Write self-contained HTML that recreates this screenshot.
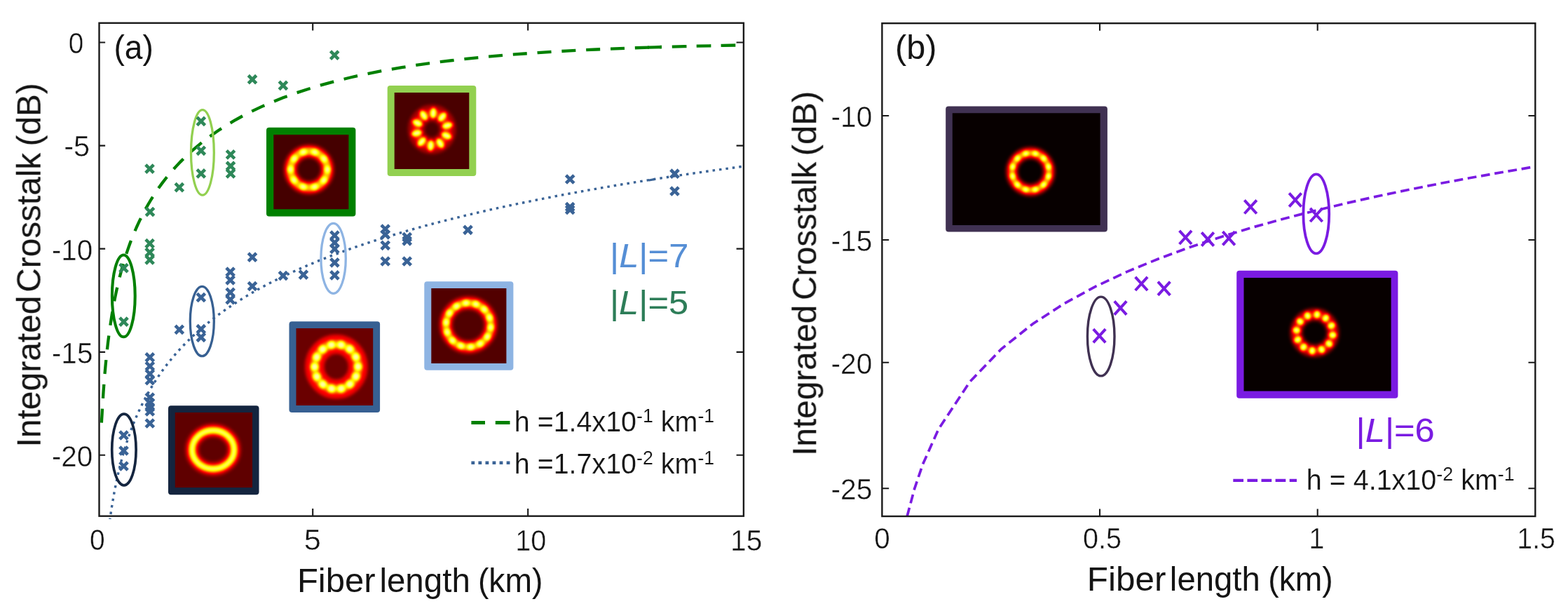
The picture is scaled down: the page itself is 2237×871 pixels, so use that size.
<!DOCTYPE html>
<html lang="en"><head><meta charset="utf-8"><title>Integrated crosstalk vs fiber length</title>
<style>html,body{margin:0;padding:0;background:#fff;}body{width:2237px;height:871px;overflow:hidden;}svg{display:block;}text{font-family:"Liberation Sans",sans-serif;fill:#141414;}</style>
</head><body>
<svg width="2237" height="871" viewBox="0 0 2237 871">
<defs>
<filter id="hb1" x="-20%" y="-20%" width="140%" height="140%" color-interpolation-filters="sRGB"><feGaussianBlur stdDeviation="1.4"/><feComponentTransfer><feFuncR type="table" tableValues="0 0.333 0.667 1 1 1 1 1 1"/><feFuncG type="table" tableValues="0 0 0 0 0.333 0.667 1 1 1"/><feFuncB type="table" tableValues="0 0 0 0 0 0 0 0.5 1"/></feComponentTransfer></filter>
<filter id="hb2" x="-20%" y="-20%" width="140%" height="140%" color-interpolation-filters="sRGB"><feGaussianBlur stdDeviation="2.0"/><feComponentTransfer><feFuncR type="table" tableValues="0 0.333 0.667 1 1 1 1 1 1"/><feFuncG type="table" tableValues="0 0 0 0 0.333 0.667 1 1 1"/><feFuncB type="table" tableValues="0 0 0 0 0 0 0 0.5 1"/></feComponentTransfer></filter>
<filter id="hb3" x="-20%" y="-20%" width="140%" height="140%" color-interpolation-filters="sRGB"><feGaussianBlur stdDeviation="2.6"/><feComponentTransfer><feFuncR type="table" tableValues="0 0.333 0.667 1 1 1 1 1 1"/><feFuncG type="table" tableValues="0 0 0 0 0.333 0.667 1 1 1"/><feFuncB type="table" tableValues="0 0 0 0 0 0 0 0.5 1"/></feComponentTransfer></filter>
<filter id="soft" filterUnits="userSpaceOnUse" x="0" y="0" width="2237" height="871" color-interpolation-filters="sRGB"><feGaussianBlur stdDeviation="0.6"/></filter>
</defs>
<rect width="2237" height="871" fill="#fff"/>
<g filter="url(#soft)">
<clipPath id="cpa"><rect x="130" y="20" width="931.5" height="720"/></clipPath>
<g clip-path="url(#cpa)">
<g fill="none" stroke="#008000" stroke-width="4.3">
<path d="M144.7 606.1 L145.1 598.2 L145.6 590.3 L146.0 582.4 L146.5 574.6 L147.0 566.7 L147.5 558.8 L148.1 550.9 L148.7 543.0 L149.3 535.1 L150.0 527.3 L150.7 519.4 L151.5 511.5 L152.3 503.6 L153.2 495.7 L154.1 487.8 L155.1 480.0 L156.2 472.1 L157.3 464.2 L158.5 456.3 L159.7 448.4 L161.1 440.6 L162.5 432.7 L164.0 424.8 L165.6 417.0 L167.4 409.1 L169.2 401.2 L171.1 393.4 L173.2 385.5 L175.4 377.7 L177.8 369.8 L180.2 362.0 L182.9 354.1 L185.7 346.3 L188.7 338.5 L191.9 330.7 L195.3 322.9 L198.9 315.1 L202.8 307.3 L206.8 299.5 L211.2 291.8 L215.8 284.0 L220.7 276.3 L225.9 268.6 L231.5 260.9 L237.4 253.3 L243.7 245.7 L250.4 238.1 L257.5 230.6 L265.1 223.1 L273.1 215.6 L281.7 208.3 L290.8 200.9 L300.5 193.7 L310.8 186.5 L321.8 179.4 L333.4 172.4 L345.8 165.5 L359.0 158.8 L373.0 152.1 L388.0 145.6 L403.8 139.3 L420.7 133.1 L438.7 127.2 L457.8 121.4 L478.1 115.8 L499.7 110.5 L522.7 105.4 L547.1 100.6 L573.1 96.1 L600.8 91.8 L630.2 87.9 L661.5 84.2 L694.8 80.9 L730.2 77.8 L767.8 75.1 L807.9 72.6 L850.5 70.5 L895.8 68.6 L944.0 67.0" stroke-dasharray="20 14.86" stroke-dashoffset="-3.5"/>
<path d="M924.0 67.7 L933.9 67.3 L944.0 67.0"/>
<path d="M958.8 66.6 L976.2 66.1 L994.1 65.7 L1012.2 65.3 L1030.8 64.9 L1049.8 64.5" stroke-dasharray="20.7 14.2"/>
</g>
<path d="M145.4 874.8 L145.8 867.6 L146.2 860.4 L146.6 853.2 L147.0 846.0 L147.4 838.8 L147.9 831.6 L148.4 824.4 L148.9 817.2 L149.5 810.0 L150.1 802.8 L150.7 795.6 L151.4 788.4 L152.1 781.2 L152.8 774.0 L153.6 766.8 L154.4 759.6 L155.3 752.5 L156.2 745.3 L157.2 738.1 L158.2 730.9 L159.3 723.7 L160.5 716.5 L161.7 709.3 L163.0 702.1 L164.4 694.9 L165.9 687.7 L167.4 680.5 L169.0 673.3 L170.7 666.1 L172.6 658.9 L174.5 651.7 L176.5 644.5 L178.7 637.3 L181.0 630.1 L183.4 622.9 L185.9 615.7 L188.6 608.5 L191.5 601.3 L194.5 594.2 L197.7 587.0 L201.1 579.8 L204.7 572.6 L208.5 565.4 L212.5 558.2 L216.7 551.0 L221.2 543.8 L225.9 536.6 L230.9 529.4 L236.2 522.2 L241.9 515.0 L247.8 507.8 L254.1 500.6 L260.7 493.5 L267.8 486.3 L275.2 479.1 L283.1 471.9 L291.4 464.7 L300.2 457.5 L309.5 450.3 L319.4 443.1 L329.8 436.0 L340.8 428.8 L352.5 421.6 L364.9 414.4 L377.9 407.2 L391.8 400.1 L406.4 392.9 L421.8 385.7 L438.2 378.6 L455.5 371.4 L473.8 364.2 L493.2 357.1 L513.7 349.9 L535.4 342.8 L558.3 335.7 L582.6 328.5 L608.3 321.4 L635.4 314.3 L664.2 307.2 L694.5 300.1 L726.7 293.0 L760.7 286.0 L796.7 278.9 L834.8 271.9 L875.1 264.9 L917.7 257.9 L962.8 250.9 L1010.4 244.0 L1060.9 237.1" fill="none" stroke="#3a6396" stroke-width="3.4" stroke-dasharray="3.5 6.0"/>
<path d="M925.8 257 L934.6 255.4" fill="none" stroke="#3a6396" stroke-width="3.2"/>
</g>
<ellipse cx="288.9" cy="217.4" rx="16.4" ry="60.7" fill="none" stroke="#92d050" stroke-width="3.3"/>
<ellipse cx="176.3" cy="421.9" rx="16.4" ry="58.4" fill="none" stroke="#008000" stroke-width="4.1"/>
<ellipse cx="288.3" cy="458.0" rx="17.0" ry="49.7" fill="none" stroke="#376092" stroke-width="3.3"/>
<ellipse cx="176.9" cy="641.0" rx="17.2" ry="50.8" fill="none" stroke="#14253f" stroke-width="3.7"/>
<ellipse cx="475.6" cy="368.4" rx="17.7" ry="50.0" fill="none" stroke="#8eb4e3" stroke-width="3.3"/>
<g>
<path d="M354.3 107.5 l11.4 11.4 M354.3 118.9 l11.4 -11.4" stroke="#2e8859" stroke-width="4.6" fill="none"/>
<path d="M398.2 116.2 l11.4 11.4 M398.2 127.6 l11.4 -11.4" stroke="#2e8859" stroke-width="4.6" fill="none"/>
<path d="M281.1 167.2 l11.4 11.4 M281.1 178.6 l11.4 -11.4" stroke="#2e8859" stroke-width="4.6" fill="none"/>
<path d="M281.1 209.1 l11.4 11.4 M281.1 220.5 l11.4 -11.4" stroke="#2e8859" stroke-width="4.6" fill="none"/>
<path d="M281.1 241.7 l11.4 11.4 M281.1 253.1 l11.4 -11.4" stroke="#2e8859" stroke-width="4.6" fill="none"/>
<path d="M323.3 214.7 l11.4 11.4 M323.3 226.1 l11.4 -11.4" stroke="#2e8859" stroke-width="4.6" fill="none"/>
<path d="M323.3 231.0 l11.4 11.4 M323.3 242.4 l11.4 -11.4" stroke="#2e8859" stroke-width="4.6" fill="none"/>
<path d="M323.3 241.7 l11.4 11.4 M323.3 253.1 l11.4 -11.4" stroke="#2e8859" stroke-width="4.6" fill="none"/>
<path d="M207.8 234.9 l11.4 11.4 M207.8 246.3 l11.4 -11.4" stroke="#2e8859" stroke-width="4.6" fill="none"/>
<path d="M250.1 261.4 l11.4 11.4 M250.1 272.8 l11.4 -11.4" stroke="#2e8859" stroke-width="4.6" fill="none"/>
<path d="M208.3 296.3 l11.4 11.4 M208.3 307.7 l11.4 -11.4" stroke="#2e8859" stroke-width="4.6" fill="none"/>
<path d="M207.9 341.4 l11.4 11.4 M207.9 352.8 l11.4 -11.4" stroke="#2e8859" stroke-width="4.6" fill="none"/>
<path d="M207.9 354.1 l11.4 11.4 M207.9 365.5 l11.4 -11.4" stroke="#2e8859" stroke-width="4.6" fill="none"/>
<path d="M207.9 364.7 l11.4 11.4 M207.9 376.1 l11.4 -11.4" stroke="#2e8859" stroke-width="4.6" fill="none"/>
<path d="M170.8 376.4 l11.4 11.4 M170.8 387.8 l11.4 -11.4" stroke="#2e8859" stroke-width="4.6" fill="none"/>
<path d="M170.8 452.9 l11.4 11.4 M170.8 464.3 l11.4 -11.4" stroke="#2e8859" stroke-width="4.6" fill="none"/>
<path d="M471.5 72.9 l11.4 11.4 M471.5 84.3 l11.4 -11.4" stroke="#2e8859" stroke-width="4.6" fill="none"/>
<path d="M354.3 360.9 l11.4 11.4 M354.3 372.3 l11.4 -11.4" stroke="#3a6396" stroke-width="4.6" fill="none"/>
<path d="M354.3 402.3 l11.4 11.4 M354.3 413.7 l11.4 -11.4" stroke="#3a6396" stroke-width="4.6" fill="none"/>
<path d="M322.9 381.9 l11.4 11.4 M322.9 393.3 l11.4 -11.4" stroke="#3a6396" stroke-width="4.6" fill="none"/>
<path d="M322.9 393.6 l11.4 11.4 M322.9 405.0 l11.4 -11.4" stroke="#3a6396" stroke-width="4.6" fill="none"/>
<path d="M322.9 411.2 l11.4 11.4 M322.9 422.6 l11.4 -11.4" stroke="#3a6396" stroke-width="4.6" fill="none"/>
<path d="M322.9 421.5 l11.4 11.4 M322.9 432.9 l11.4 -11.4" stroke="#3a6396" stroke-width="4.6" fill="none"/>
<path d="M281.1 418.3 l11.4 11.4 M281.1 429.7 l11.4 -11.4" stroke="#3a6396" stroke-width="4.6" fill="none"/>
<path d="M398.2 387.3 l11.4 11.4 M398.2 398.7 l11.4 -11.4" stroke="#3a6396" stroke-width="4.6" fill="none"/>
<path d="M250.1 464.2 l11.4 11.4 M250.1 475.6 l11.4 -11.4" stroke="#3a6396" stroke-width="4.6" fill="none"/>
<path d="M281.1 463.5 l11.4 11.4 M281.1 474.9 l11.4 -11.4" stroke="#3a6396" stroke-width="4.6" fill="none"/>
<path d="M281.1 475.1 l11.4 11.4 M281.1 486.5 l11.4 -11.4" stroke="#3a6396" stroke-width="4.6" fill="none"/>
<path d="M208.1 503.7 l11.4 11.4 M208.1 515.1 l11.4 -11.4" stroke="#3a6396" stroke-width="4.6" fill="none"/>
<path d="M208.1 516.3 l11.4 11.4 M208.1 527.7 l11.4 -11.4" stroke="#3a6396" stroke-width="4.6" fill="none"/>
<path d="M208.1 527.3 l11.4 11.4 M208.1 538.7 l11.4 -11.4" stroke="#3a6396" stroke-width="4.6" fill="none"/>
<path d="M208.1 536.5 l11.4 11.4 M208.1 547.9 l11.4 -11.4" stroke="#3a6396" stroke-width="4.6" fill="none"/>
<path d="M208.1 560.8 l11.4 11.4 M208.1 572.2 l11.4 -11.4" stroke="#3a6396" stroke-width="4.6" fill="none"/>
<path d="M208.1 568.3 l11.4 11.4 M208.1 579.7 l11.4 -11.4" stroke="#3a6396" stroke-width="4.6" fill="none"/>
<path d="M208.1 574.8 l11.4 11.4 M208.1 586.2 l11.4 -11.4" stroke="#3a6396" stroke-width="4.6" fill="none"/>
<path d="M208.1 580.8 l11.4 11.4 M208.1 592.2 l11.4 -11.4" stroke="#3a6396" stroke-width="4.6" fill="none"/>
<path d="M208.1 597.8 l11.4 11.4 M208.1 609.2 l11.4 -11.4" stroke="#3a6396" stroke-width="4.6" fill="none"/>
<path d="M170.8 614.8 l11.4 11.4 M170.8 626.2 l11.4 -11.4" stroke="#3a6396" stroke-width="4.6" fill="none"/>
<path d="M170.8 636.8 l11.4 11.4 M170.8 648.2 l11.4 -11.4" stroke="#3a6396" stroke-width="4.6" fill="none"/>
<path d="M170.8 658.8 l11.4 11.4 M170.8 670.2 l11.4 -11.4" stroke="#3a6396" stroke-width="4.6" fill="none"/>
<path d="M427.2 385.9 l11.4 11.4 M427.2 397.3 l11.4 -11.4" stroke="#3a6396" stroke-width="4.6" fill="none"/>
<path d="M471.7 329.9 l11.4 11.4 M471.7 341.3 l11.4 -11.4" stroke="#3a6396" stroke-width="4.6" fill="none"/>
<path d="M471.7 340.2 l11.4 11.4 M471.7 351.6 l11.4 -11.4" stroke="#3a6396" stroke-width="4.6" fill="none"/>
<path d="M471.7 349.2 l11.4 11.4 M471.7 360.6 l11.4 -11.4" stroke="#3a6396" stroke-width="4.6" fill="none"/>
<path d="M471.7 368.6 l11.4 11.4 M471.7 380.0 l11.4 -11.4" stroke="#3a6396" stroke-width="4.6" fill="none"/>
<path d="M471.7 386.7 l11.4 11.4 M471.7 398.1 l11.4 -11.4" stroke="#3a6396" stroke-width="4.6" fill="none"/>
<path d="M544.0 320.8 l11.4 11.4 M544.0 332.2 l11.4 -11.4" stroke="#3a6396" stroke-width="4.6" fill="none"/>
<path d="M544.0 328.6 l11.4 11.4 M544.0 340.0 l11.4 -11.4" stroke="#3a6396" stroke-width="4.6" fill="none"/>
<path d="M544.0 344.1 l11.4 11.4 M544.0 355.5 l11.4 -11.4" stroke="#3a6396" stroke-width="4.6" fill="none"/>
<path d="M544.0 366.8 l11.4 11.4 M544.0 378.2 l11.4 -11.4" stroke="#3a6396" stroke-width="4.6" fill="none"/>
<path d="M575.0 332.4 l11.4 11.4 M575.0 343.8 l11.4 -11.4" stroke="#3a6396" stroke-width="4.6" fill="none"/>
<path d="M575.0 337.6 l11.4 11.4 M575.0 349.0 l11.4 -11.4" stroke="#3a6396" stroke-width="4.6" fill="none"/>
<path d="M575.0 366.8 l11.4 11.4 M575.0 378.2 l11.4 -11.4" stroke="#3a6396" stroke-width="4.6" fill="none"/>
<path d="M661.8 322.1 l11.4 11.4 M661.8 333.5 l11.4 -11.4" stroke="#3a6396" stroke-width="4.6" fill="none"/>
<path d="M807.5 249.8 l11.4 11.4 M807.5 261.2 l11.4 -11.4" stroke="#3a6396" stroke-width="4.6" fill="none"/>
<path d="M807.5 289.3 l11.4 11.4 M807.5 300.7 l11.4 -11.4" stroke="#3a6396" stroke-width="4.6" fill="none"/>
<path d="M807.5 293.3 l11.4 11.4 M807.5 304.7 l11.4 -11.4" stroke="#3a6396" stroke-width="4.6" fill="none"/>
<path d="M956.8 242.0 l11.4 11.4 M956.8 253.4 l11.4 -11.4" stroke="#3a6396" stroke-width="4.6" fill="none"/>
<path d="M956.8 266.8 l11.4 11.4 M956.8 278.2 l11.4 -11.4" stroke="#3a6396" stroke-width="4.6" fill="none"/>
</g>
<rect x="380.0" y="181.7" width="127.4" height="126.9" rx="4" ry="4" fill="#008000"/>
<clipPath id="c380"><rect x="390.3" y="191.9" width="107.1" height="106.4"/></clipPath>
<g clip-path="url(#c380)"><g filter="url(#hb2)">
<rect x="378.3" y="179.9" width="131.1" height="130.4" fill="#1a1a1a"/>
<ellipse cx="440.8" cy="241.6" rx="26.3" ry="26.0" fill="none" stroke="#4c4c4c" stroke-width="19.9"/>
<ellipse cx="440.8" cy="241.6" rx="26.3" ry="26.0" fill="none" stroke="#a8a8a8" stroke-width="10.5"/>
<g fill="#e6e6e6"><circle cx="432.8" cy="216.8" r="5.0"/><circle cx="449.1" cy="216.9" r="5.0"/><circle cx="462.2" cy="226.4" r="5.0"/><circle cx="467.1" cy="241.7" r="5.0"/><circle cx="462.0" cy="257.0" r="5.0"/><circle cx="448.8" cy="266.4" r="5.0"/><circle cx="432.5" cy="266.3" r="5.0"/><circle cx="419.4" cy="256.8" r="5.0"/><circle cx="414.5" cy="241.5" r="5.0"/><circle cx="419.6" cy="226.2" r="5.0"/></g>
</g></g>
<rect x="552.7" y="122.1" width="126.6" height="128.8" rx="4" ry="4" fill="#92d050"/>
<clipPath id="c552"><rect x="562.7" y="132.0" width="106.6" height="108.9"/></clipPath>
<g clip-path="url(#c552)"><g filter="url(#hb2)">
<rect x="550.7" y="120.0" width="130.6" height="132.9" fill="#1c1c1c"/>
<ellipse cx="616.3" cy="184.4" rx="22.4" ry="23.2" fill="none" stroke="#3d3d3d" stroke-width="24.2"/>
<ellipse cx="616.3" cy="184.4" rx="22.4" ry="23.2" fill="none" stroke="#616161" stroke-width="11.0"/>
<g fill="#ebebeb"><ellipse cx="618.1" cy="161.3" rx="7.8" ry="4.2" transform="rotate(-85.4 618.1 161.3)"/><ellipse cx="630.9" cy="166.8" rx="7.8" ry="4.2" transform="rotate(-49.4 630.9 166.8)"/><ellipse cx="638.1" cy="179.0" rx="7.8" ry="4.2" transform="rotate(-13.4 638.1 179.0)"/><ellipse cx="637.0" cy="193.3" rx="7.8" ry="4.2" transform="rotate(22.6 637.0 193.3)"/><ellipse cx="628.0" cy="204.2" rx="7.8" ry="4.2" transform="rotate(58.6 628.0 204.2)"/><ellipse cx="614.5" cy="207.5" rx="7.8" ry="4.2" transform="rotate(94.6 614.5 207.5)"/><ellipse cx="601.7" cy="202.0" rx="7.8" ry="4.2" transform="rotate(130.6 601.7 202.0)"/><ellipse cx="594.5" cy="189.8" rx="7.8" ry="4.2" transform="rotate(166.6 594.5 189.8)"/><ellipse cx="595.6" cy="175.5" rx="7.8" ry="4.2" transform="rotate(202.6 595.6 175.5)"/><ellipse cx="604.6" cy="164.6" rx="7.8" ry="4.2" transform="rotate(238.6 604.6 164.6)"/></g>
</g></g>
<rect x="240.0" y="578.2" width="129.5" height="127.1" rx="4" ry="4" fill="#14253f"/>
<clipPath id="c240"><rect x="249.8" y="588.0" width="110.2" height="107.0"/></clipPath>
<g clip-path="url(#c240)"><g filter="url(#hb2)">
<rect x="237.8" y="576.0" width="134.2" height="131.0" fill="#242424"/>
<ellipse cx="304.0" cy="641.0" rx="30.0" ry="27.5" fill="none" stroke="#4c4c4c" stroke-width="19.9"/>
<ellipse cx="304.0" cy="641.0" rx="30.0" ry="27.5" fill="none" stroke="#adadad" stroke-width="10.5"/>
<ellipse cx="304.0" cy="641.0" rx="30.0" ry="27.5" fill="none" stroke="#dbdbdb" stroke-width="5.8"/>
</g></g>
<rect x="412.5" y="458.2" width="129.6" height="129.7" rx="4" ry="4" fill="#376092"/>
<clipPath id="c412"><rect x="422.5" y="468.0" width="109.7" height="109.9"/></clipPath>
<g clip-path="url(#c412)"><g filter="url(#hb2)">
<rect x="410.5" y="456.0" width="133.7" height="133.9" fill="#282828"/>
<ellipse cx="479.8" cy="522.8" rx="31.0" ry="32.0" fill="none" stroke="#5c5c5c" stroke-width="27.6"/>
<ellipse cx="479.8" cy="522.8" rx="31.0" ry="32.0" fill="none" stroke="#8f8f8f" stroke-width="12.0"/>
<g fill="#ebebeb"><circle cx="486.6" cy="491.6" r="5.9"/><circle cx="499.0" cy="497.7" r="5.9"/><circle cx="507.7" cy="508.8" r="5.9"/><circle cx="510.8" cy="522.7" r="5.9"/><circle cx="507.8" cy="536.6" r="5.9"/><circle cx="499.2" cy="547.7" r="5.9"/><circle cx="486.8" cy="554.0" r="5.9"/><circle cx="473.0" cy="554.0" r="5.9"/><circle cx="460.6" cy="547.9" r="5.9"/><circle cx="451.9" cy="536.8" r="5.9"/><circle cx="448.8" cy="522.9" r="5.9"/><circle cx="451.8" cy="509.0" r="5.9"/><circle cx="460.4" cy="497.9" r="5.9"/><circle cx="472.8" cy="491.6" r="5.9"/></g>
</g></g>
<rect x="605.3" y="401.2" width="127.1" height="126.6" rx="4" ry="4" fill="#8eb4e3"/>
<clipPath id="c605"><rect x="615.3" y="411.0" width="107.1" height="107.0"/></clipPath>
<g clip-path="url(#c605)"><g filter="url(#hb2)">
<rect x="603.3" y="399.0" width="131.1" height="131.0" fill="#1f1f1f"/>
<ellipse cx="668.2" cy="463.2" rx="32.0" ry="31.5" fill="none" stroke="#4c4c4c" stroke-width="19.9"/>
<ellipse cx="668.2" cy="463.2" rx="32.0" ry="31.5" fill="none" stroke="#9e9e9e" stroke-width="10.5"/>
<g fill="#e6e6e6"><circle cx="664.7" cy="431.9" r="5.0"/><circle cx="678.9" cy="433.5" r="5.0"/><circle cx="690.9" cy="441.0" r="5.0"/><circle cx="698.4" cy="452.9" r="5.0"/><circle cx="700.0" cy="466.8" r="5.0"/><circle cx="695.2" cy="480.0" r="5.0"/><circle cx="685.1" cy="489.9" r="5.0"/><circle cx="671.7" cy="494.5" r="5.0"/><circle cx="657.5" cy="492.9" r="5.0"/><circle cx="645.5" cy="485.4" r="5.0"/><circle cx="638.0" cy="473.5" r="5.0"/><circle cx="636.4" cy="459.6" r="5.0"/><circle cx="641.2" cy="446.4" r="5.0"/><circle cx="651.3" cy="436.5" r="5.0"/></g>
</g></g>
<rect x="141.5" y="32.8" width="919.4" height="702.9" fill="none" stroke="#1a1a1a" stroke-width="2.4"/>
<path d="M446.2 735.7 v-10.6 M446.2 32.8 v10.6 M753.2 735.7 v-10.6 M753.2 32.8 v10.6 M141.5 60.5 h8.6 M1060.9 60.5 h-10.3 M141.5 207.6 h8.6 M1060.9 207.6 h-10.3 M141.5 354.6 h8.6 M1060.9 354.6 h-10.3 M141.5 501.9 h8.6 M1060.9 501.9 h-10.3 M141.5 648.8 h8.6 M1060.9 648.8 h-10.3" fill="none" stroke="#1a1a1a" stroke-width="2.1"/>
<text transform="translate(97.85 76.30) scale(0.3874 0.4260)" font-size="100" stroke="#fff" stroke-width="1.11">0</text>
<text transform="translate(91.13 223.30) scale(0.4150 0.4260)" font-size="100" stroke="#fff" stroke-width="1.07">-5</text>
<text transform="translate(73.88 370.50) scale(0.4044 0.4260)" font-size="100" stroke="#fff" stroke-width="1.08">-10</text>
<text transform="translate(73.88 517.90) scale(0.4052 0.4260)" font-size="100" stroke="#fff" stroke-width="1.08">-15</text>
<text transform="translate(73.88 664.70) scale(0.4044 0.4260)" font-size="100" stroke="#fff" stroke-width="1.08">-20</text>
<text transform="translate(128.04 784.50) scale(0.3895 0.4260)" font-size="100" stroke="#fff" stroke-width="1.10">0</text>
<text transform="translate(433.77 784.50) scale(0.4337 0.4260)" font-size="100" stroke="#fff" stroke-width="1.05">5</text>
<text transform="translate(735.22 784.50) scale(0.3970 0.4260)" font-size="100" stroke="#fff" stroke-width="1.09">10</text>
<text transform="translate(1042.03 784.50) scale(0.4090 0.4260)" font-size="100" stroke="#fff" stroke-width="1.08">15</text>
<text transform="translate(0 844.20) scale(0.4759 0.4810)" font-size="100"><tspan x="890.76" textLength="234.64" lengthAdjust="spacingAndGlyphs">Fiber</tspan> <tspan x="1137.61" textLength="272.08" lengthAdjust="spacingAndGlyphs">length</tspan> <tspan x="1432.88" textLength="194.23" lengthAdjust="spacingAndGlyphs">(km)</tspan></text>
<text transform="translate(57.80 0) rotate(-90) scale(0.4775 0.4740)" font-size="100" stroke="#141414" stroke-width="0.25"><tspan x="-1334.95" textLength="452.31" lengthAdjust="spacingAndGlyphs">Integrated</tspan> <tspan x="-872.43" textLength="416.30" lengthAdjust="spacingAndGlyphs">Crosstalk</tspan> <tspan x="-436.39" textLength="188.30" lengthAdjust="spacingAndGlyphs">(dB)</tspan></text>
<text transform="translate(162.42 83.60) scale(0.4610 0.4740)" font-size="100">(a)</text>
<text transform="translate(869.93 380.60) scale(0.5075 0.4850)" font-size="100" style="fill:#558ed5;" stroke="#558ed5" stroke-width="0.20">|<tspan font-style="italic">L</tspan>|=7</text>
<text transform="translate(869.94 447.80) scale(0.5070 0.4850)" font-size="100" style="fill:#2d7d58;" stroke="#2d7d58" stroke-width="0.20">|<tspan font-style="italic">L</tspan>|=5</text>
<path d="M672.4 602.6 H692 M706.8 602.6 H727.5" stroke="#008000" stroke-width="5" fill="none"/>
<path d="M672.4 659.8 H728" stroke="#3a6396" stroke-width="4.6" stroke-dasharray="4.8 5.25" fill="none"/>
<text transform="translate(733.74 614.80) scale(0.3944 0.4060)" font-size="100" stroke="#fff" stroke-width="0.37">h =1.4x10<tspan font-size="68" dy="-31">-1</tspan><tspan dy="31"> km</tspan><tspan font-size="68" dy="-31">-1</tspan></text>
<text transform="translate(733.74 675.00) scale(0.3944 0.4060)" font-size="100" stroke="#fff" stroke-width="0.37">h =1.7x10<tspan font-size="68" dy="-31">-2</tspan><tspan dy="31"> km</tspan><tspan font-size="68" dy="-31">-1</tspan></text>
<path d="M1294.1 736.2 L1304.7 696.6 L1316.5 661.9 L1338.9 611.9 L1383.7 544.2 L1428.5 497.5 L1473.4 461.7 L1518.2 432.8 L1563.0 408.4 L1607.8 387.4 L1652.6 369.0 L1697.4 352.5 L1742.2 337.7 L1787.0 324.1 L1831.8 311.7 L1876.7 300.2 L1921.5 289.5 L1966.3 279.5 L2011.1 270.2 L2055.9 261.3 L2100.7 253.0 L2145.5 245.1 L2190.3 237.5" fill="none" stroke="#7a1be2" stroke-width="3.7" stroke-dasharray="12.8 6.7"/>
<ellipse cx="1570.7" cy="479.5" rx="19.3" ry="56.4" fill="none" stroke="#403152" stroke-width="3.4"/>
<ellipse cx="1877.8" cy="304.9" rx="18.4" ry="56.5" fill="none" stroke="#7a1be2" stroke-width="3.8"/>
<path d="M1775.4 285.3 l17.4 19.2 M1775.4 304.5 l17.4 -19.2" stroke="#7a1be2" stroke-width="4.0" fill="none"/>
<path d="M1682.6 328.8 l17.4 19.2 M1682.6 348.0 l17.4 -19.2" stroke="#7a1be2" stroke-width="4.0" fill="none"/>
<path d="M1714.3 331.4 l17.4 19.2 M1714.3 350.6 l17.4 -19.2" stroke="#7a1be2" stroke-width="4.0" fill="none"/>
<path d="M1744.4 330.1 l17.4 19.2 M1744.4 349.3 l17.4 -19.2" stroke="#7a1be2" stroke-width="4.0" fill="none"/>
<path d="M1619.7 394.8 l17.4 19.2 M1619.7 414.0 l17.4 -19.2" stroke="#7a1be2" stroke-width="4.0" fill="none"/>
<path d="M1652.0 401.6 l17.4 19.2 M1652.0 420.8 l17.4 -19.2" stroke="#7a1be2" stroke-width="4.0" fill="none"/>
<path d="M1589.8 429.4 l17.4 19.2 M1589.8 448.6 l17.4 -19.2" stroke="#7a1be2" stroke-width="4.0" fill="none"/>
<path d="M1559.8 469.1 l17.4 19.2 M1559.8 488.3 l17.4 -19.2" stroke="#7a1be2" stroke-width="4.0" fill="none"/>
<path d="M1839.2 275.4 l17.4 19.2 M1839.2 294.6 l17.4 -19.2" stroke="#7a1be2" stroke-width="4.0" fill="none"/>
<path d="M1869.2 296.8 l17.4 19.2 M1869.2 316.0 l17.4 -19.2" stroke="#7a1be2" stroke-width="4.0" fill="none"/>
<rect x="1349.2" y="151.5" width="230.7" height="179.0" rx="4" ry="4" fill="#403152"/>
<clipPath id="c1349"><rect x="1358.8" y="161.3" width="210.8" height="159.6"/></clipPath>
<g clip-path="url(#c1349)"><g filter="url(#hb2)">
<rect x="1346.8" y="149.3" width="234.8" height="183.6" fill="#030303"/>
<ellipse cx="1470.2" cy="244.5" rx="26.5" ry="26.5" fill="none" stroke="#404040" stroke-width="18.0"/>
<ellipse cx="1470.2" cy="244.5" rx="26.5" ry="26.5" fill="none" stroke="#999999" stroke-width="9.0"/>
<g fill="#ebebeb"><circle cx="1463.4" cy="218.9" r="4.2"/><circle cx="1477.1" cy="218.9" r="4.2"/><circle cx="1489.0" cy="225.8" r="4.2"/><circle cx="1495.8" cy="237.7" r="4.2"/><circle cx="1495.8" cy="251.4" r="4.2"/><circle cx="1488.9" cy="263.3" r="4.2"/><circle cx="1477.0" cy="270.1" r="4.2"/><circle cx="1463.3" cy="270.1" r="4.2"/><circle cx="1451.4" cy="263.2" r="4.2"/><circle cx="1444.6" cy="251.3" r="4.2"/><circle cx="1444.6" cy="237.6" r="4.2"/><circle cx="1451.5" cy="225.7" r="4.2"/></g>
</g></g>
<rect x="1764.2" y="385.8" width="230.2" height="182.0" rx="4" ry="4" fill="#7a1be2"/>
<clipPath id="c1764"><rect x="1774.5" y="396.1" width="210.1" height="161.4"/></clipPath>
<g clip-path="url(#c1764)"><g filter="url(#hb2)">
<rect x="1762.5" y="384.1" width="234.1" height="185.4" fill="#030303"/>
<ellipse cx="1875.5" cy="474.2" rx="26.0" ry="26.0" fill="none" stroke="#333333" stroke-width="19.0"/>
<ellipse cx="1875.5" cy="474.2" rx="26.0" ry="26.0" fill="none" stroke="#5c5c5c" stroke-width="10.0"/>
<g fill="#e6e6e6"><ellipse cx="1878.9" cy="448.4" rx="5.7" ry="4.4" transform="rotate(-82.5 1878.9 448.4)"/><ellipse cx="1891.3" cy="453.6" rx="5.7" ry="4.4" transform="rotate(-52.5 1891.3 453.6)"/><ellipse cx="1899.5" cy="464.2" rx="5.7" ry="4.4" transform="rotate(-22.5 1899.5 464.2)"/><ellipse cx="1901.3" cy="477.6" rx="5.7" ry="4.4" transform="rotate(7.5 1901.3 477.6)"/><ellipse cx="1896.1" cy="490.0" rx="5.7" ry="4.4" transform="rotate(37.5 1896.1 490.0)"/><ellipse cx="1885.5" cy="498.2" rx="5.7" ry="4.4" transform="rotate(67.5 1885.5 498.2)"/><ellipse cx="1872.1" cy="500.0" rx="5.7" ry="4.4" transform="rotate(97.5 1872.1 500.0)"/><ellipse cx="1859.7" cy="494.8" rx="5.7" ry="4.4" transform="rotate(127.5 1859.7 494.8)"/><ellipse cx="1851.5" cy="484.2" rx="5.7" ry="4.4" transform="rotate(157.5 1851.5 484.2)"/><ellipse cx="1849.7" cy="470.8" rx="5.7" ry="4.4" transform="rotate(187.5 1849.7 470.8)"/><ellipse cx="1854.9" cy="458.4" rx="5.7" ry="4.4" transform="rotate(217.5 1854.9 458.4)"/><ellipse cx="1865.5" cy="450.2" rx="5.7" ry="4.4" transform="rotate(247.5 1865.5 450.2)"/></g>
</g></g>
<rect x="1258.4" y="33.2" width="931.9" height="702.8" fill="none" stroke="#1a1a1a" stroke-width="2.4"/>
<path d="M1569.0 736.0 v-10.6 M1569.0 33.2 v10.6 M1879.7 736.0 v-10.6 M1879.7 33.2 v10.6 M1258.4 165.0 h9.8 M2190.3 165.0 h-9.8 M1258.4 342.0 h9.8 M2190.3 342.0 h-9.8 M1258.4 516.7 h9.8 M2190.3 516.7 h-9.8 M1258.4 696.2 h9.8 M2190.3 696.2 h-9.8" fill="none" stroke="#1a1a1a" stroke-width="2.1"/>
<text transform="translate(1185.47 181.10) scale(0.4074 0.4260)" font-size="100" stroke="#fff" stroke-width="1.08">-10</text>
<text transform="translate(1185.46 358.00) scale(0.4081 0.4260)" font-size="100" stroke="#fff" stroke-width="1.08">-15</text>
<text transform="translate(1185.47 532.50) scale(0.4074 0.4260)" font-size="100" stroke="#fff" stroke-width="1.08">-20</text>
<text transform="translate(1185.46 712.00) scale(0.4081 0.4260)" font-size="100" stroke="#fff" stroke-width="1.08">-25</text>
<text transform="translate(1247.28 781.80) scale(0.4042 0.4260)" font-size="100" stroke="#fff" stroke-width="1.08">0</text>
<text transform="translate(1544.92 781.80) scale(0.3954 0.4260)" font-size="100" stroke="#fff" stroke-width="1.10">0.5</text>
<text transform="translate(2164.36 781.80) scale(0.3921 0.4260)" font-size="100" stroke="#fff" stroke-width="1.10">1.5</text>
<text transform="translate(1867.35 781.80) scale(0.4000 0.4260)" font-size="100" stroke="#fff" stroke-width="1.16">1</text>
<text transform="translate(0 841.50) scale(0.4767 0.4810)" font-size="100"><tspan x="3253.26" textLength="236.26" lengthAdjust="spacingAndGlyphs">Fiber</tspan> <tspan x="3500.89" textLength="270.55" lengthAdjust="spacingAndGlyphs">length</tspan> <tspan x="3795.46" textLength="193.93" lengthAdjust="spacingAndGlyphs">(km)</tspan></text>
<text transform="translate(1164.50 0) rotate(-90) scale(0.4805 0.4740)" font-size="100" stroke="#141414" stroke-width="0.25"><tspan x="-1352.50" textLength="447.52" lengthAdjust="spacingAndGlyphs">Integrated</tspan> <tspan x="-890.40" textLength="410.10" lengthAdjust="spacingAndGlyphs">Crosstalk</tspan> <tspan x="-462.97" textLength="193.12" lengthAdjust="spacingAndGlyphs">(dB)</tspan></text>
<text transform="translate(1277.06 83.60) scale(0.4866 0.4740)" font-size="100">(b)</text>
<text transform="translate(1934.54 630.40) scale(0.5066 0.4900)" font-size="100" style="fill:#7a1be2;" stroke="#7a1be2" stroke-width="0.20">|<tspan font-style="italic">L</tspan>|=6</text>
<path d="M1759.3 684.9 H1850" stroke="#7a1be2" stroke-width="4.3" stroke-dasharray="14.7 5.4" fill="none"/>
<text transform="translate(1863.73 697.70) scale(0.3951 0.4070)" font-size="100" stroke="#fff" stroke-width="0.37">h = 4.1x10<tspan font-size="68" dy="-31">-2</tspan><tspan dy="31"> km</tspan><tspan font-size="68" dy="-31">-1</tspan></text>
</g>
</svg>
</body></html>
